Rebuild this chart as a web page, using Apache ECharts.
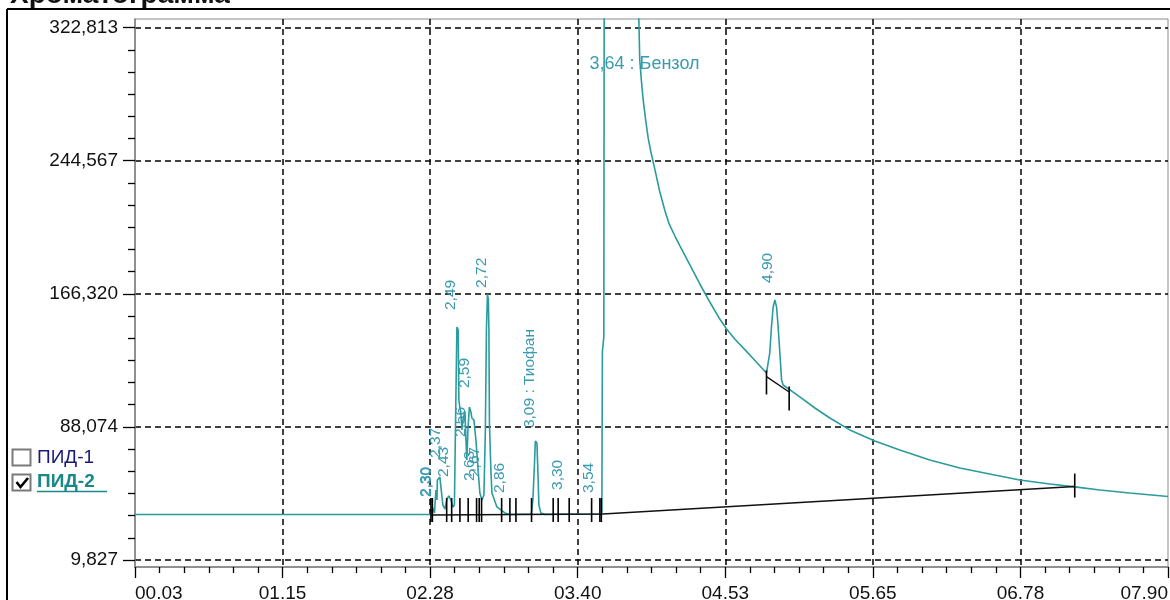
<!DOCTYPE html>
<html>
<head>
<meta charset="utf-8">
<script src="https://cdn.jsdelivr.net/npm/echarts@6/dist/echarts.min.js"></script>
<style>
html,body{margin:0;padding:0;background:#fff;}
#chart{width:1170px;height:600px;}
</style>
</head>
<body>
<div id="chart"></div>
<script>
// ---------- data ----------
const xTickValues = [0.03, 1.155, 2.28, 3.405, 4.53, 5.655, 6.78, 7.905];
const xTickLabels = ['00.03', '01.15', '02.28', '03.40', '04.53', '05.65', '06.78', '07.90'];
const yTickValues = [9.827, 88.074, 166.320, 244.567, 322.813];
const yTickLabels = ['9,827', '88,074', '166,320', '244,567', '322,813'];

// chromatogram trace (ПИД-2): retention time, min / signal
const traceTime = [
  0.03, 2.278, 2.293, 2.300, 2.313, 2.324, 2.332, 2.335, 2.354, 2.366,
  2.377, 2.393, 2.408, 2.423, 2.438, 2.454, 2.465, 2.476, 2.484, 2.494,
  2.499, 2.507, 2.514, 2.522, 2.530, 2.545, 2.553, 2.560, 2.568, 2.579,
  2.591, 2.598, 2.614, 2.629, 2.644, 2.659, 2.675, 2.690, 2.701, 2.709,
  2.717, 2.724, 2.728, 2.732, 2.743, 2.751, 2.789, 2.850, 2.888, 3.052,
  3.063, 3.075, 3.082, 3.094, 3.101, 3.109, 3.124, 3.155, 3.589, 3.593,
  3.604, 3.612, 3.639, 3.750, 3.850, 3.871, 3.878, 3.890, 3.904, 3.925,
  3.942, 3.963, 3.994, 4.031, 4.070, 4.102, 4.146, 4.184, 4.260, 4.336,
  4.412, 4.488, 4.540, 4.602, 4.717, 4.844,
  4.857, 4.869, 4.882, 4.895, 4.908, 4.921, 4.933, 4.946, 4.959, 4.971,
  5.098, 5.213, 5.327, 5.479, 5.670, 5.860, 6.089, 6.318, 6.546, 6.775,
  7.004, 7.194, 7.385, 7.613, 7.905
];
const traceSignal = [
  36.6, 36.6, 36.9, 40.4, 37.5, 51.0, 45.1, 56.9, 58.6, 58.0,
  42.2, 39.8, 45.7, 47.5, 45.1, 41.0, 42.2, 103.9, 146.8, 145.1,
  103.9, 99.2, 96.8, 86.3, 92.1, 97.4, 80.4, 68.6, 86.3, 99.8,
  96.8, 93.3, 92.1, 80.4, 64.5, 49.2, 45.1, 48.0, 86.3, 145.1,
  166.2, 162.7, 145.1, 90.4, 62.7, 49.2, 41.0, 37.5, 36.6, 36.9,
  45.1, 65.7, 79.8, 78.6, 62.7, 42.2, 37.5, 36.6, 36.9, 132.1,
  141.0, 700, 1400, 700, 360, 327.6, 303.8, 292.1, 280.3, 267.4,
  258.0, 249.7, 239.2, 226.2, 215.2, 207.4, 200.3, 194.5, 183.3, 172.1,
  161.5, 151.5, 145.6, 139.8, 130.4, 119.8,
  119.6, 131.5, 146.8, 158.6, 162.7, 158.6, 146.8, 131.5, 115.7, 112.7,
  105.7, 99.2, 93.3, 86.3, 79.8, 74.5, 68.6, 63.9, 60.4, 56.9,
  54.5, 52.8, 51.0, 49.2, 47.2
];

// integration baselines
const baselineTime = [2.286, 3.597, 7.194];
const baselineSignal = [36.3, 36.9, 53.0];
const peak490BaseTime = [4.844, 5.017];
const peak490BaseSignal = [117.6, 108.6];

// peak start / end markers
const markerTime = [2.286, 2.297, 2.406, 2.444, 2.507, 2.570, 2.634, 2.654, 2.672, 2.825,
  2.888, 2.934, 3.053, 3.218, 3.256, 3.340, 3.511, 3.574, 3.585, 4.844, 5.017, 7.194];
const markerSignal = [39.2, 39.2, 39.2, 39.2, 39.2, 39.2, 39.2, 39.2, 39.2, 39.2,
  39.2, 39.2, 39.2, 39.2, 39.2, 39.2, 39.2, 39.2, 39.2, 114.2, 104.8, 53.6];

// peak labels
const peakNames = ['2,30', '2,30', '2,37', '2,43', '2,49', '2,56', '2,59', '2,63', '2,67', '2,72',
  '2,86', '3,09 : Тиофан', '3,30', '3,54', '4,90'];
const peakTimes = [2.296, 2.304, 2.37, 2.43, 2.49, 2.56, 2.59, 2.63, 2.67, 2.72,
  2.86, 3.09, 3.30, 3.54, 4.90];
const peakLabelLevels = [46.9, 46.9, 69.8, 58.6, 156.8, 82.1, 110.9, 56.3, 58.6, 169.8,
  49.2, 87.4, 51.0, 49.2, 172.7];
const benzeneNames = ['3,64 : Бензол'];
const benzeneTimes = [3.64];
const benzeneLabelLevels = [301.5];

const legendNames = ['ПИД-1', 'ПИД-2'];
const titleText = 'Хроматограмма';

// ---------- styling ----------
const FONT = '"Liberation Sans", Arial, sans-serif';
const TEAL = '#2a9c9c';
const LABEL_TEAL = '#3a9bb0';
const Y_MIN = 5.71, Y_MAX = 327.9;

function minors(vals, n) {
  const out = [];
  for (let i = 0; i < vals.length - 1; i++) {
    const s = (vals[i + 1] - vals[i]) / n;
    for (let k = 1; k < n; k++) out.push(vals[i] + k * s);
  }
  return out;
}
function lookup(vals, labels, v) {
  for (let i = 0; i < vals.length; i++) if (Math.abs(vals[i] - v) < 1e-6) return labels[i];
  return '';
}
const xMin = xTickValues[0], xMax = xTickValues[xTickValues.length - 1];

const chart = echarts.init(document.getElementById('chart'), null, {renderer: 'canvas'});

const baseX = {type: 'value', min: xMin, max: xMax, position: 'bottom', scale: true};
const baseY = {type: 'value', min: Y_MIN, max: Y_MAX, position: 'left', scale: true};

const option = {
  animation: false,
  backgroundColor: '#ffffff',
  grid: {left: 135, right: 2, top: 19, bottom: 33, show: true, borderColor: '#8a8a8a', borderWidth: 1,
    containLabel: false, outerBoundsMode: 'none'},
  xAxis: [
    Object.assign({}, baseX, {
      z: 3,
      axisLine: {show: true, lineStyle: {color: '#7f7f7f', width: 1.5}},
      axisTick: {show: true, customValues: xTickValues, length: 11, lineStyle: {color: '#000', width: 1.3}},
      axisLabel: {show: true, customValues: xTickValues, formatter: v => lookup(xTickValues, xTickLabels, v),
        fontFamily: FONT, fontSize: 19, color: '#111', margin: 17, alignMinLabel: 'left', alignMaxLabel: 'right'},
      splitLine: {show: false}
    }),
    Object.assign({}, baseX, {
      z: 3,
      axisLine: {show: false},
      axisTick: {show: true, customValues: minors(xTickValues, 6), length: 6, lineStyle: {color: '#000', width: 1.3}},
      axisLabel: {show: false},
      splitLine: {show: false}
    }),
    Object.assign({}, baseX, {
      z: 0,
      axisLine: {show: false},
      axisTick: {show: false, customValues: xTickValues.slice(1, -1)},
      axisLabel: {show: false},
      splitLine: {show: true, lineStyle: {color: '#000', width: 1.5, type: [6, 4]}}
    })
  ],
  yAxis: [
    Object.assign({}, baseY, {
      z: 3,
      axisLine: {show: true, lineStyle: {color: '#7f7f7f', width: 1.5}},
      axisTick: {show: true, customValues: yTickValues, length: 12, lineStyle: {color: '#000', width: 1.3}},
      axisLabel: {show: true, customValues: yTickValues, formatter: v => lookup(yTickValues, yTickLabels, v),
        fontFamily: FONT, fontSize: 19, color: '#111', margin: 17},
      splitLine: {show: false}
    }),
    Object.assign({}, baseY, {
      z: 3,
      axisLine: {show: false},
      axisTick: {show: true, customValues: minors(yTickValues, 6), length: 7, lineStyle: {color: '#000', width: 1.3}},
      axisLabel: {show: false},
      splitLine: {show: false}
    }),
    Object.assign({}, baseY, {
      z: 0,
      axisLine: {show: false},
      axisTick: {show: false, customValues: yTickValues},
      axisLabel: {show: false},
      splitLine: {show: true, lineStyle: {color: '#000', width: 1.5, type: [6, 4]}}
    })
  ],
  series: [
    {
      name: legendNames[1], type: 'line', xAxisIndex: 0, yAxisIndex: 0,
      data: traceTime.map((t, i) => [t, traceSignal[i]]),
      showSymbol: false, symbol: 'none', clip: true, silent: true, z: 2,
      lineStyle: {color: TEAL, width: 1.6}
    },
    {
      name: 'baseline', type: 'line', xAxisIndex: 0, yAxisIndex: 0,
      data: baselineTime.map((t, i) => [t, baselineSignal[i]]),
      showSymbol: false, symbol: 'none', silent: true, z: 3,
      lineStyle: {color: '#111', width: 1.4}
    },
    {
      name: 'baseline490', type: 'line', xAxisIndex: 0, yAxisIndex: 0,
      data: peak490BaseTime.map((t, i) => [t, peak490BaseSignal[i]]),
      showSymbol: false, symbol: 'none', silent: true, z: 3,
      lineStyle: {color: '#111', width: 1.4}
    },
    {
      name: 'markers', type: 'custom', xAxisIndex: 0, yAxisIndex: 0, silent: true, z: 4,
      data: markerTime.map((t, i) => [t, markerSignal[i]]),
      renderItem: (params, api) => {
        const p = api.coord([api.value(0), api.value(1)]);
        return {type: 'line', shape: {x1: p[0], y1: p[1] - 12, x2: p[0], y2: p[1] + 12},
          style: {stroke: '#000', lineWidth: 1.6}};
      }
    },
    {
      name: 'peakLabels', type: 'custom', xAxisIndex: 0, yAxisIndex: 0, silent: true, z: 5, clip: false,
      data: peakTimes.map((t, i) => [t, peakLabelLevels[i]]),
      renderItem: (params, api) => {
        const p = api.coord([api.value(0), api.value(1)]);
        return {type: 'text', x: p[0] - 6.5, y: p[1], rotation: Math.PI / 2,
          style: {text: peakNames[params.dataIndex], fill: LABEL_TEAL, font: '15.5px ' + FONT,
            align: 'left', verticalAlign: 'middle'}};
      }
    },
    {
      name: 'benzeneLabel', type: 'custom', xAxisIndex: 0, yAxisIndex: 0, silent: true, z: 5, clip: false,
      data: benzeneTimes.map((t, i) => [t, benzeneLabelLevels[i]]),
      renderItem: (params, api) => {
        const p = api.coord([api.value(0), api.value(1)]);
        return {type: 'text', x: p[0] - 19, y: p[1],
          style: {text: benzeneNames[params.dataIndex], fill: LABEL_TEAL, font: '18px ' + FONT,
            align: 'left', verticalAlign: 'middle'}};
      }
    }
  ],
  graphic: [
    {type: 'text', x: 10, y: -5, silent: true,
      style: {text: titleText, fill: '#111', font: 'bold 28px ' + FONT, align: 'left', verticalAlign: 'middle'}},
    {type: 'line', silent: true, shape: {x1: 7, y1: 9, x2: 1170, y2: 9}, style: {stroke: '#000', lineWidth: 2}},
    {type: 'line', silent: true, shape: {x1: 7, y1: 9, x2: 7, y2: 600}, style: {stroke: '#000', lineWidth: 2}},
    {type: 'rect', silent: true, shape: {x: 12.5, y: 449.5, width: 18, height: 16},
      style: {fill: '#fff', stroke: '#7a7a7a', lineWidth: 2}},
    {type: 'text', silent: true, x: 37, y: 458,
      style: {text: legendNames[0], fill: '#1a1a72', font: '19px ' + FONT, verticalAlign: 'middle', align: 'left'}},
    {type: 'rect', silent: true, shape: {x: 12.5, y: 474.5, width: 18, height: 16},
      style: {fill: '#fff', stroke: '#7a7a7a', lineWidth: 2}},
    {type: 'polyline', silent: true, shape: {points: [[16.5, 482], [20.5, 487], [28, 478]]},
      style: {stroke: '#000', lineWidth: 2.6, fill: null}},
    {type: 'text', silent: true, x: 37, y: 482,
      style: {text: legendNames[1], fill: '#188888', font: 'bold 19px ' + FONT, verticalAlign: 'middle', align: 'left'}},
    {type: 'line', silent: true, shape: {x1: 37, y1: 491.5, x2: 107, y2: 491.5}, style: {stroke: '#188888', lineWidth: 1.6}}
  ]
};
chart.setOption(option);
</script>
</body>
</html>
